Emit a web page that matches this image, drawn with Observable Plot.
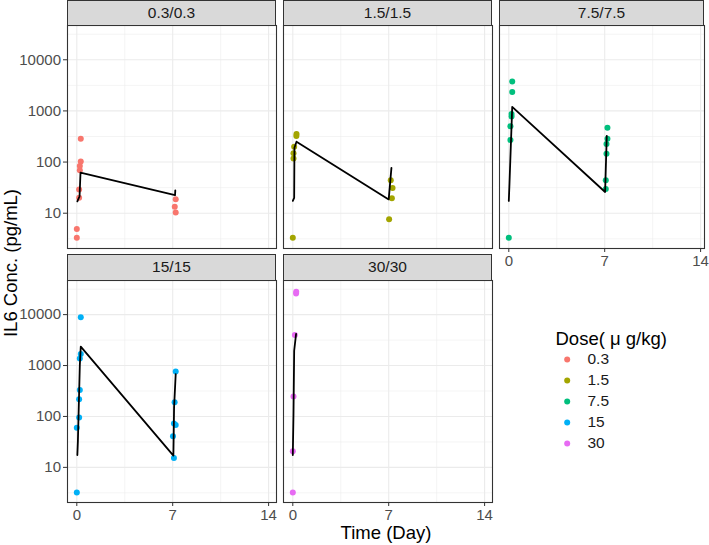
<!DOCTYPE html>
<html>
<head>
<meta charset="utf-8">
<script src="https://cdn.jsdelivr.net/npm/d3@7"></script>
<script src="https://cdn.jsdelivr.net/npm/@observablehq/plot@0.6"></script>
<style>
  body { margin: 0; background: #fff; }
  #chart { position: relative; width: 709px; height: 545px; overflow: hidden; background: #fff;
           font-family: "Liberation Sans", Arial, sans-serif; }
  .strip { position: absolute; box-sizing: border-box; background: #D9D9D9; border: 1.1px solid #333333;
           color: #1A1A1A; font-size: 15.5px; text-align: center; }
  .panel { position: absolute; }
  .title { position: absolute; color: #000; font-size: 18.5px; white-space: nowrap; }
</style>
</head>
<body>
<div id="chart"></div>
<script>
// ---------------- data ----------------
const doses = ["0.3", "1.5", "7.5", "15", "30"];
const stripLabels = ["0.3/0.3", "1.5/1.5", "7.5/7.5", "15/15", "30/30"];
const doseColors = ["#F8766D", "#A3A500", "#00BF7D", "#00B0F6", "#E76BF3"];

// observed concentrations
const obsDose = [
  "0.3","0.3","0.3","0.3","0.3","0.3","0.3","0.3","0.3","0.3","0.3",
  "1.5","1.5","1.5","1.5","1.5","1.5","1.5","1.5","1.5","1.5",
  "7.5","7.5","7.5","7.5","7.5","7.5","7.5","7.5","7.5","7.5","7.5","7.5","7.5",
  "15","15","15","15","15","15","15","15","15","15","15","15","15","15",
  "30","30","30","30","30","30"
];
const obsTime = [
  0, 0, 0.17, 0.17, 0.22, 0.22, 0.29, 0.29, 7.15, 7.22, 7.22,
  0, 0.05, 0.05, 0.10, 0.26, 0.27, 7.03, 7.15, 7.23, 7.28,
  0, 0.12, 0.12, 0.20, 0.20, 0.25, 0.25, 7.08, 7.08, 7.13, 7.13, 7.20, 7.20,
  0, 0, 0.17, 0.17, 0.22, 0.22, 0.29, 0.29, 7.02, 7.09, 7.09, 7.14, 7.22, 7.22,
  0, 0, 0.05, 0.15, 0.24, 0.25
];
const obsConc = [
  3.3, 4.9, 20, 29, 69, 84, 103, 285, 13.3, 18.8, 10.3,
  3.3, 118, 148, 200, 325, 355, 7.6, 44, 19.7, 31,
  3.3, 270, 500, 780, 870, 2350, 3760, 29.6, 44, 145, 225, 285, 470,
  3.2, 60, 95, 217, 331, 1380, 1690, 8900, 41, 15.3, 73, 191, 68, 760,
  3.2, 20.7, 246, 4000, 26000, 28000
];

// black summary line
const meanDose = [
  "0.3","0.3","0.3","0.3","0.3","0.3",
  "1.5","1.5","1.5","1.5","1.5","1.5","1.5",
  "7.5","7.5","7.5","7.5","7.5",
  "15","15","15","15","15","15","15",
  "30","30","30","30"
];
const meanTime = [
  0.04, 0.15, 0.20, 0.27, 7.17, 7.19,
  0, 0.10, 0.12, 0.27, 7.00, 7.12, 7.20,
  0, 0.05, 0.25, 7.03, 7.15,
  0.04, 0.08, 0.22, 0.29, 7.05, 7.10, 7.22,
  0, 0.05, 0.10, 0.24
];
const meanConc = [
  17, 20, 21, 62, 22.5, 28,
  17.4, 20, 190, 250, 18.6, 44, 77,
  17.4, 38, 1200, 26, 325,
  17.5, 33, 1000, 2350, 17, 150, 680,
  17.5, 112, 1950, 4200
];

const yTicks = [10, 100, 1000, 10000];
const yMinor = [3.1623, 31.623, 316.23, 3162.3, 31623];
const xTicks = [0, 7, 14];
const xMinor = [3.5, 10.5];
const xTitle = "Time (Day)";
const yTitle = "IL6 Conc. (pg/mL)";
const legendTitle = "Dose( μ g/kg)";

// ---------------- layout ----------------
const chart = document.getElementById("chart");
const colLeft = [67, 283, 499], colWidth = [209, 209, 205];
const rowTop = [25, 280], rowHeight = [223, 222];
const stripTop = [0, 254], stripH = [25.5, 26.5];
const pxPerDay = 13.7, x0Off = 9.3;
const yDomain = [Math.pow(10, 0.31), Math.pow(10, 4.67)];
const font = '"Liberation Sans", Arial, sans-serif';

const obs = obsDose.map((d, k) => ({dose: d, time: obsTime[k], conc: obsConc[k]}));
const mean = meanDose.map((d, k) => ({dose: d, time: meanTime[k], conc: meanConc[k]}));

doses.forEach((dose, i) => {
  const col = i % 3, row = Math.floor(i / 3);
  const w = colWidth[col], h = rowHeight[row];
  const showY = col === 0;
  const showX = row === 1 || i === 2;
  const gridMinor = {stroke: "#EBEBEB", strokeOpacity: 1, strokeWidth: 0.55};
  const gridMajor = {stroke: "#EBEBEB", strokeOpacity: 1, strokeWidth: 1.1};
  const p = Plot.plot({
    width: w, height: h,
    marginTop: 0, marginRight: 0, marginBottom: 0, marginLeft: 0,
    style: {overflow: "visible", background: "white", fontFamily: font, fontSize: "15px"},
    x: {domain: [-x0Off / pxPerDay, (w - x0Off) / pxPerDay], ...(showX ? {} : {axis: null})},
    y: {type: "log", domain: yDomain, ...(showY ? {} : {axis: null})},
    color: {domain: doses, range: doseColors},
    marks: [
      Plot.gridX(xMinor, gridMinor),
      Plot.gridY(yMinor, gridMinor),
      Plot.gridX(xTicks, gridMajor),
      Plot.gridY(yTicks, gridMajor),
      Plot.dot(obs.filter(o => o.dose === dose), {x: "time", y: "conc", fill: "dose", r: 3}),
      Plot.line(mean.filter(o => o.dose === dose), {x: "time", y: "conc", stroke: "black", strokeWidth: 1.8}),
      Plot.frame({stroke: "#333333", strokeWidth: 1.1}),
      showY ? Plot.axisY({ticks: yTicks, tickSize: 4, tickPadding: 2.5, tickFormat: d => String(d),
                          fontSize: 15, color: "#4D4D4D", fill: "#4D4D4D", stroke: "#333333", label: null}) : null,
      showX ? Plot.axisX({ticks: xTicks, tickSize: 4, tickPadding: 2.5, tickFormat: d => String(d),
                          fontSize: 15, color: "#4D4D4D", fill: "#4D4D4D", stroke: "#333333", label: null}) : null
    ]
  });
  p.classList.add("panel");
  p.style.left = colLeft[col] + "px";
  p.style.top = rowTop[row] + "px";
  chart.appendChild(p);

  const s = document.createElement("div");
  s.className = "strip";
  s.style.left = colLeft[col] + "px";
  s.style.top = stripTop[row] + "px";
  s.style.width = w + "px";
  s.style.height = stripH[row] + "px";
  s.style.lineHeight = (stripH[row] - 2) + "px";
  s.textContent = stripLabels[i];
  chart.appendChild(s);
});

// legend
const lg = Plot.plot({
  width: 160, height: 140,
  marginTop: 0, marginRight: 0, marginBottom: 0, marginLeft: 0,
  style: {overflow: "visible", background: "transparent", fontFamily: font},
  x: {domain: [0, 160], range: [0, 160], axis: null},
  y: {type: "point", domain: doses, range: [39, 123], padding: 0, axis: null},
  color: {domain: doses, range: doseColors},
  marks: [
    Plot.text([legendTitle], {frameAnchor: "top-left", dx: 15, dy: 11, textAnchor: "start",
                              fontSize: 18.5, fill: "#000"}),
    Plot.dot(doses, {x: () => 26.7, y: d => d, fill: d => d, r: 3}),
    Plot.text(doses, {x: () => 47, y: d => d, text: d => d, textAnchor: "start", fontSize: 15.5, fill: "#1A1A1A"})
  ]
});
lg.style.position = "absolute";
lg.style.left = "540px";
lg.style.top = "320px";
chart.appendChild(lg);

// axis titles
const xt = document.createElement("div");
xt.className = "title";
xt.textContent = xTitle;
xt.style.left = "386px"; xt.style.top = "533px";
xt.style.transform = "translate(-50%,-50%)";
chart.appendChild(xt);

const yt = document.createElement("div");
yt.className = "title";
yt.textContent = yTitle;
yt.style.left = "11px"; yt.style.top = "263px";
yt.style.transform = "translate(-50%,-50%) rotate(-90deg)";
chart.appendChild(yt);
</script>
</body>
</html>
